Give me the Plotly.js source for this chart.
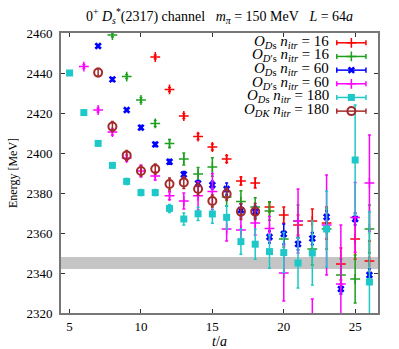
<!DOCTYPE html>
<html>
<head>
<meta charset="utf-8">
<script src="https://cdn.plot.ly/plotly-3.0.1.min.js"></script>
<style>
  body { margin: 0; background: #fff; }
  #plot { width: 399px; height: 349px; }
</style>
</head>
<body>
<div id="plot"></div>
<script>
// time slices t/a and effective energies (MeV) per operator
var tRed = [11, 12, 13, 14, 15, 16, 17, 18, 19, 20, 21, 22, 23, 24, 25, 26];
var eRed = [2448, 2431.8, 2418.5, 2408.2, 2403, 2397, 2386, 2385, 2373, 2369, 2364, 2366, 2365, 2344.5, 2357, 2346];
var dRed = [1, 1, 1.2, 1.5, 1.5, 1.8, 2, 2.5, 2.5, 4, 5, 6, 8, 8, 10, 10];

var tGreen = [8, 9, 10, 11, 12, 13, 14, 15, 16, 17, 18, 19, 20, 21, 22, 23, 24, 25, 26];
var eGreen = [2459, 2438.2, 2426.5, 2414.8, 2404.7, 2397, 2389.5, 2393, 2378, 2375.7, 2373, 2371, 2357, 2366, 2352, 2362, 2339, 2337, 2362];
var dGreen = [1, 1, 1.2, 1.5, 2, 3, 3.3, 4.6, 4.6, 5.4, 4.6, 4.6, 4, 8, 8, 10, 8, 12, 12];

var tBlue = [7, 8, 9, 10, 11, 12, 13, 14, 15, 16, 17, 18, 19, 20, 21, 22, 23, 24, 25, 26];
var eBlue = [2453.5, 2436.8, 2421.5, 2412.7, 2404.3, 2395.6, 2389.3, 2384.8, 2384, 2382, 2371.5, 2370.5, 2358, 2359.5, 2354.5, 2357.3, 2368, 2332, 2367, 2339];
var dBlue = [0.8, 0.8, 0.8, 1, 1, 1.2, 1.5, 1.5, 2, 3, 3, 3, 3, 5, 3, 3, 3, 2.5, 3, 3];

var tMag = [6, 7, 8, 9, 10, 11, 12, 13, 14, 15, 16, 17, 18, 19, 20, 21, 22, 23, 24, 25, 26];
var eMag = [2443.2, 2421.5, 2410.5, 2397.5, 2391, 2388.5, 2378.6, 2376, 2378.6, 2380.7, 2362, 2361.5, 2365, 2362.3, 2340, 2366, 2312, 2364, 2334.5, 2367.8, 2385];
var dMag = [1, 1, 1.5, 1.5, 3, 2, 2, 4, 7, 9, 6, 6, 6, 6, 14, 16, 15, 25, 29.5, 17.4, 24];

var tCyan = [5, 6, 7, 8, 9, 10, 11, 12, 13, 14, 15, 16, 17, 18, 19, 20, 21, 22, 23, 24, 25, 26];
var eCyan = [2440, 2420.2, 2404.8, 2393.8, 2385.8, 2380.2, 2380.2, 2372.3, 2367, 2369.6, 2369.5, 2367.8, 2355.7, 2354.4, 2350.7, 2350.2, 2345, 2350, 2362, null, 2396.5, 2335.5];
var dCyan = [1, 1, 1, 1.2, 1.5, 1.5, 1.5, 2, 3, 3.3, 4.6, 5.8, 6.3, 7.5, 8.3, 10, 12.5, 16, 19, 0, 27.5, 35];

var tBrown = [7, 8, 9, 10, 11, 12, 13, 14, 15, 16, 17, 18];
var eBrown = [2440.2, 2413.2, 2398.8, 2391, 2392, 2384.5, 2385.3, 2382, 2376, 2379.5, 2370.7, 2370.7];
var dBrown = [2, 2.5, 2.5, 2.5, 2.5, 3, 3, 3, 3, 3, 4, 4];

// threshold band (MeV)
var bandLow = 2342;
var bandHigh = 2348;

var labels = [
  '<i>O</i><sub><i>D</i>s</sub> <i>n</i><sub><i>itr</i></sub> = 16',
  '<i>O</i><sub><i>D</i>\u2032s</sub> <i>n</i><sub><i>itr</i></sub> = 16',
  '<i>O</i><sub><i>D</i>s</sub> <i>n</i><sub><i>itr</i></sub> = 60',
  '<i>O</i><sub><i>D</i>\u2032s</sub> <i>n</i><sub><i>itr</i></sub> = 60',
  '<i>O</i><sub><i>D</i>s</sub> <i>n</i><sub><i>itr</i></sub> = 180',
  '<i>O</i><sub><i>DK</i></sub> <i>n</i><sub><i>itr</i></sub> = 180'
];

var serif = 'Liberation Serif, DejaVu Serif, serif';

var styles = [
  {color: '#ff0000', symbol: 'cross-thin', size: 7, lw: 1.5},
  {color: '#1f9f1f', symbol: 'cross-thin', size: 7, lw: 1.5},
  {color: '#0000ff', symbol: 'x', size: 6.5, lw: 0},
  {color: '#ff00ff', symbol: 'cross-thin', size: 7, lw: 1.5},
  {color: '#1ec8c8', symbol: 'square', size: 7, lw: 0},
  {color: '#a52a2a', symbol: 'circle-open', size: 8, lw: 2}
];
var series = [
  [tRed, eRed, dRed],
  [tGreen, eGreen, dGreen],
  [tBlue, eBlue, dBlue],
  [tMag, eMag, dMag],
  [tCyan, eCyan, dCyan],
  [tBrown, eBrown, dBrown]
];

var data = [];
series.forEach(function(s, i){
  var st = styles[i];
  data.push({
    x: s[0], y: s[1],
    type: 'scatter', mode: 'markers',
    name: labels[i], showlegend: false,
    marker: {symbol: st.symbol, size: st.size, color: st.color,
             line: {color: st.color, width: st.lw}},
    error_y: {type: 'data', array: s[2], visible: true,
              color: st.color, thickness: 1.5, width: 1.5}
  });
});

// hand-made key: text on the left, sample on the right (gnuplot style)
var shapes = [{
  type: 'rect', xref: 'paper', x0: 0, x1: 1, yref: 'y', y0: bandLow, y1: bandHigh,
  fillcolor: 'rgba(150,150,150,0.55)', line: {width: 0}, layer: 'below'
}];
var annotations = [];
for (var i = 0; i < labels.length; i++) {
  var ky = 0.965 - i * 0.0488;
  var c = styles[i].color;
  shapes.push({type: 'line', xref: 'paper', yref: 'paper', x0: 0.870, x1: 0.962, y0: ky, y1: ky, line: {color: c, width: 1.5}});
  shapes.push({type: 'line', xref: 'paper', yref: 'paper', x0: 0.870, x1: 0.870, y0: ky - 0.009, y1: ky + 0.009, line: {color: c, width: 1.5}});
  shapes.push({type: 'line', xref: 'paper', yref: 'paper', x0: 0.962, x1: 0.962, y0: ky - 0.009, y1: ky + 0.009, line: {color: c, width: 1.5}});
  annotations.push({xref: 'paper', yref: 'paper', x: 0.853, y: ky + 0.004, xanchor: 'right', yanchor: 'middle',
    text: labels[i], showarrow: false, font: {family: serif, size: 15, color: '#000'}});
  data.push({
    x: [0.916], y: [ky], xaxis: 'x2', yaxis: 'y2', type: 'scatter', mode: 'markers',
    showlegend: false, hoverinfo: 'skip', cliponaxis: false,
    marker: {symbol: styles[i].symbol, size: styles[i].size, color: c,
             line: {color: c, width: styles[i].lw}}
  });
}

var layout = {
  width: 399, height: 349,
  margin: {l: 61, r: 21, t: 33, b: 36},
  paper_bgcolor: '#fff', plot_bgcolor: '#fff',
  showlegend: false,
  font: {family: serif, size: 13, color: '#000'},
  title: {
    text: '0<sup>+</sup> <i>D</i><sub><i>s</i></sub><sup>*</sup>(2317) channel\u00a0\u00a0\u00a0<i>m</i><sub><i>\u03c0</i></sub> = 150 MeV\u00a0\u00a0\u00a0<i>L</i> = 64<i>a</i>',
    font: {family: serif, size: 14, color: '#000'},
    x: 0.5, xref: 'paper', xanchor: 'center',
    y: 0.955, yref: 'container', yanchor: 'middle'
  },
  xaxis: {
    range: [4.4, 26.6], tick0: 5, dtick: 5,
    ticks: 'inside', ticklen: 4, tickcolor: '#333', tickwidth: 1,
    showline: true, linecolor: '#777', linewidth: 2, mirror: 'ticks',
    showgrid: false, zeroline: false,
    tickfont: {family: serif, size: 13},
    title: {text: '<i>t</i>/<i>a</i>', font: {family: serif, size: 14}, standoff: 0}
  },
  yaxis: {
    range: [2320, 2460], tick0: 2320, dtick: 20,
    ticks: 'inside', ticklen: 4, tickcolor: '#333', tickwidth: 1,
    showline: true, linecolor: '#777', linewidth: 2, mirror: 'ticks',
    showgrid: false, zeroline: false,
    ticklabelstandoff: 4,
    tickfont: {family: serif, size: 13},
    title: {text: 'Energy [MeV]', font: {family: serif, size: 12}, standoff: 6}
  },
  xaxis2: {overlaying: 'x', range: [0, 1], visible: false},
  yaxis2: {overlaying: 'y', range: [0, 1], visible: false},
  shapes: shapes,
  annotations: annotations
};

var config = {displayModeBar: false, responsive: false};
Plotly.newPlot('plot', data, layout, config);
</script>
</body>
</html>
